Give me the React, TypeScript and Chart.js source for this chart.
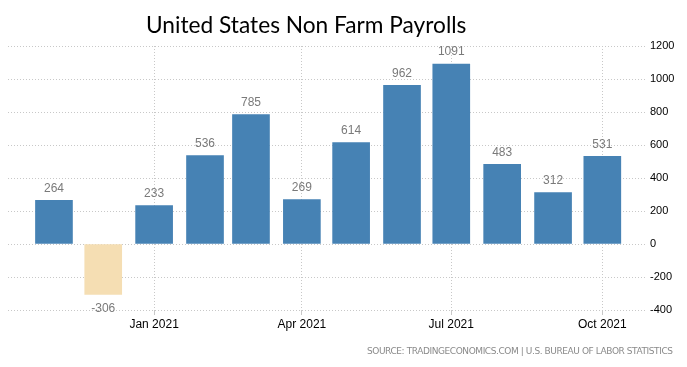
import React, { useEffect, useRef } from "react";
import { Chart, registerables } from "chart.js";

Chart.register(...registerables);

const months: string[] = [
  "2020-11", "2020-12", "2021-01", "2021-02", "2021-03", "2021-04",
  "2021-05", "2021-06", "2021-07", "2021-08", "2021-09", "2021-10",
];
const payrolls: number[] = [264, -306, 233, 536, 785, 269, 614, 962, 1091, 483, 312, 531];
const xTickDates: string[] = ["2021-01", "2021-04", "2021-07", "2021-10"];
const xTickLabels: string[] = ["Jan 2021", "Apr 2021", "Jul 2021", "Oct 2021"];
const yTicks: number[] = [-400, -200, 0, 200, 400, 600, 800, 1000, 1200];
const titleText = "United States Non Farm Payrolls";
const sourceText = "SOURCE: TRADINGECONOMICS.COM | U.S. BUREAU OF LABOR STATISTICS";

const toDay = (ym: string, d = 1) => {
  const [y, m] = ym.split("-").map(Number);
  return Date.UTC(y, m - 1, d) / 86400000;
};

const POS = "#4682b4";
const NEG = "#f5deb3";

export default function App() {
  const ref = useRef<HTMLCanvasElement | null>(null);
  useEffect(() => {
    document.body.style.margin = "0";
    const canvas = ref.current!;
    const labelPlugin = {
      id: "extras",
      afterDatasetsDraw(chart: any) {
        const ctx = chart.ctx;
        const meta = chart.getDatasetMeta(0);
        ctx.save();
        ctx.font = '12px "Liberation Sans", Arial, sans-serif';
        ctx.fillStyle = "#7a7a7a";
        ctx.textAlign = "center";
        ctx.textBaseline = "middle";
        meta.data.forEach((el: any, i: number) => {
          const v = payrolls[i];
          const y = v >= 0 ? el.y - 12 : el.y + 14;
          ctx.fillText(String(v), el.x, y);
        });
        ctx.restore();
      },
      afterDraw(chart: any) {
        const ctx = chart.ctx;
        ctx.save();
        ctx.font = '22.7px Lato, "Open Sans", sans-serif';
        ctx.fillStyle = "#000";
        ctx.textAlign = "left";
        ctx.textBaseline = "alphabetic";
        ctx.fillText(titleText, 146, 33);
        ctx.font = '9px "DejaVu Sans", sans-serif';
        ctx.fillStyle = "#8a8a8a";
        ctx.textBaseline = "middle";
        const w = ctx.measureText(sourceText).width;
        const spacing = (306 - w) / (sourceText.length - 1);
        (ctx as any).letterSpacing = spacing + "px";
        ctx.fillText(sourceText, 367, 352);
        ctx.restore();
      },
    };
    const chart = new Chart(canvas, {
      type: "bar",
      data: {
        datasets: [
          {
            data: months.map((m, i) => ({ x: toDay(m), y: payrolls[i] })),
            backgroundColor: payrolls.map((v) => (v >= 0 ? POS : NEG)),
            barThickness: 37,
          },
        ],
      },
      options: {
        animation: false,
        responsive: false,
        layout: { padding: { top: 46, left: 8, right: 0, bottom: 0 } },
        plugins: {
          legend: { display: false },
          tooltip: { enabled: false },
          title: { display: false },
        },
        scales: {
          x: {
            type: "linear",
            offset: false,
            min: toDay("2020-10", 4),
            max: toDay("2021-10", 27),
            afterBuildTicks: (scale: any) => {
              scale.ticks = xTickDates.map((d) => ({ value: toDay(d) }));
            },
            afterFit: (scale: any) => {
              scale.height = 57;
            },
            ticks: {
              autoSkip: false,
              maxRotation: 0,
              padding: 2,
              color: "#000",
              font: { family: '"Liberation Sans", Arial, sans-serif', size: 12 },
              callback: (v: any) => {
                const idx = xTickDates.findIndex((d) => toDay(d) === v);
                return idx >= 0 ? xTickLabels[idx] : "";
              },
            },
            grid: { offset: false, color: "#c8c8c8", lineWidth: 1, drawTicks: true, tickLength: 5 },
            border: { display: false, dash: [1, 2] },
          },
          y: {
            position: "right",
            min: -400,
            max: 1200,
            afterBuildTicks: (scale: any) => {
              scale.ticks = yTicks.map((v) => ({ value: v }));
            },
            afterFit: (scale: any) => {
              scale.width = 42;
            },
            ticks: {
              padding: 5,
              color: "#000",
              font: { family: '"Liberation Sans", Arial, sans-serif', size: 11 },
              callback: (v: any) => String(v),
            },
            grid: { color: "#c8c8c8", lineWidth: 1, drawTicks: false },
            border: { display: false, dash: [1, 2] },
          },
        },
      },
      plugins: [labelPlugin],
    } as any);
    return () => chart.destroy();
  }, []);
  return (
    <div style={{ width: 687, height: 367 }}>
      <canvas ref={ref} width={687} height={367} style={{ display: "block" }} />
    </div>
  );
}
